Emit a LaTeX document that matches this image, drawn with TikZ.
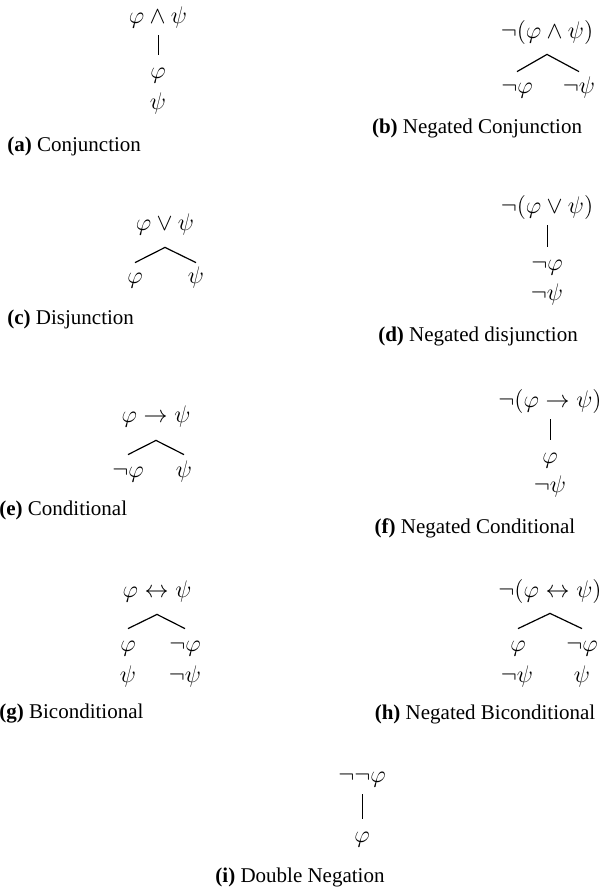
\documentclass[tikz,border=0pt]{standalone}
\usepackage{fontspec}
\setmainfont{Liberation Serif}
\usepackage{tikz}
\usetikzlibrary{positioning, calc}

\begin{document}
\begin{tikzpicture}[x=0.5pt, y=-0.5pt,
  fml/.style={inner sep=0pt, text height=8pt, text depth=3pt, font=\fontsize{12.5}{15}\selectfont},
  subcap/.style={inner sep=0pt, font=\fontsize{10.5}{12}\selectfont},
  stem/.style={line width=0.5pt, shorten <=3pt, shorten >=3.5pt},
  fork/.style={line width=0.6pt}
]
\useasboundingbox (0,0) rectangle (603,890);

% (a) conjunction
\node[fml] (a0) at (158,18) {$\varphi\wedge\psi$};
\node[fml] (a1) at (158,73) {$\varphi$};
\node[fml] (a2) at (158,104) {$\psi$};
\node[subcap, anchor=west] (acap) at (7,146) {\textbf{(a)} Conjunction};
\draw[stem] (a0) -- (a1);

% (b) negated conjunction
\node[fml] (b0) at (547,33) {$\neg(\varphi\wedge\psi)$};
\node[fml] (b1) at (517,88) {$\neg\varphi$};
\node[fml] (b2) at (579,88) {$\neg\psi$};
\node[subcap] (bcap) at (477,128) {\textbf{(b)} Negated Conjunction};
\coordinate (bA) at ([yshift=-5pt]b0.south);
\draw[fork] ([yshift=2.5pt]b1.north) -- (bA) -- ([yshift=2.5pt]b2.north);

% (c) disjunction
\node[fml] (c0) at (165,225) {$\varphi\vee\psi$};
\node[fml] (c1) at (135,278) {$\varphi$};
\node[fml] (c2) at (196,278) {$\psi$};
\node[subcap, anchor=west] (ccap) at (7,319) {\textbf{(c)} Disjunction};
\coordinate (cA) at ([yshift=-5.5pt]c0.south);
\draw[fork] ([yshift=2pt]c1.north) -- (cA) -- ([yshift=2pt]c2.north);

% (d) negated disjunction
\node[fml] (d0) at (547,208) {$\neg(\varphi\vee\psi)$};
\node[fml] (d1) at (547,265) {$\neg\varphi$};
\node[fml] (d2) at (547,295) {$\neg\psi$};
\node[subcap] (dcap) at (478,336) {\textbf{(d)} Negated disjunction};
\draw[stem] (d0) -- (d1);

% (e) conditional
\node[fml] (e0) at (156,417) {$\varphi\to\psi$};
\node[fml] (e1) at (128,472) {$\neg\varphi$};
\node[fml] (e2) at (184,472) {$\psi$};
\node[subcap, anchor=west] (ecap) at (-1,510) {\textbf{(e)} Conditional};
\coordinate (eA) at ([yshift=-6pt]e0.south);
\draw[fork] ([yshift=3pt]e1.north) -- (eA) -- ([yshift=3pt]e2.north);

% (f) negated conditional
\node[fml] (f0) at (550,402) {$\neg(\varphi\to\psi)$};
\node[fml] (f1) at (550,458) {$\varphi$};
\node[fml] (f2) at (550,487) {$\neg\psi$};
\node[subcap] (fcap) at (475,528) {\textbf{(f)} Negated Conditional};
\draw[stem] (f0) -- (f1);

% (g) biconditional
\node[fml] (g0) at (157,592) {$\varphi\leftrightarrow\psi$};
\node[fml] (g1) at (128,646) {$\varphi$};
\node[fml] (g2) at (185,646) {$\neg\varphi$};
\node[fml] (g3) at (128,677) {$\psi$};
\node[fml] (g4) at (185,677) {$\neg\psi$};
\node[subcap, anchor=west] (gcap) at (-1,714) {\textbf{(g)} Biconditional};
\coordinate (gA) at ([yshift=-5.5pt]g0.south);
\draw[fork] ([yshift=3pt]g1.north) -- (gA) -- ([yshift=3pt]g2.north);

% (h) negated biconditional
\node[fml] (h0) at (550,592) {$\neg(\varphi\leftrightarrow\psi)$};
\node[fml] (h1) at (518,646) {$\varphi$};
\node[fml] (h2) at (582,646) {$\neg\varphi$};
\node[fml] (h3) at (517,677) {$\neg\psi$};
\node[fml] (h4) at (582,677) {$\psi$};
\node[subcap] (hcap) at (485,714) {\textbf{(h)} Negated Biconditional};
\coordinate (hA) at ([yshift=-5pt]h0.south);
\draw[fork] ([yshift=3pt]h1.north) -- (hA) -- ([yshift=3pt]h2.north);

% (i) double negation
\node[fml] (i0) at (362,777) {$\neg\neg\varphi$};
\node[fml] (i1) at (362,837) {$\varphi$};
\node[subcap] (icap) at (300,877) {\textbf{(i)} Double Negation};
\draw[stem] (i0) -- (i1);
\end{tikzpicture}
\end{document}
